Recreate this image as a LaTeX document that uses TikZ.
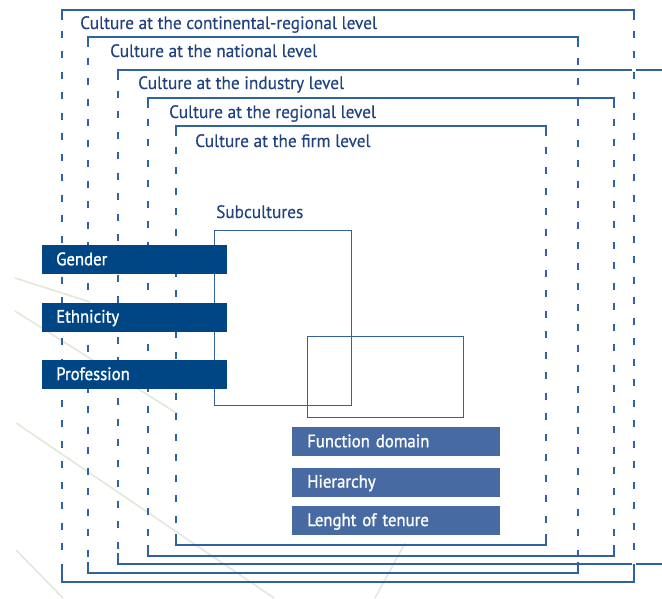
\documentclass[tikz,border=0pt]{standalone}
\usepackage{fontspec}
\setmainfont{PT Sans}[FakeStretch=0.96, FakeBold=0.3]
\newfontfamily\tagfont{PT Sans}[FakeStretch=0.93, FakeBold=1.2]
\usetikzlibrary{positioning}
\definecolor{cuLine}{RGB}{46,98,160}
\definecolor{cuText}{RGB}{32,66,128}
\definecolor{cuDark}{RGB}{0,70,132}
\definecolor{cuMid}{RGB}{71,106,163}
\definecolor{cuFaint}{RGB}{226,232,218}

\begin{document}
\begin{tikzpicture}[
  x=1pt, y=-1pt,
  font=\fontsize{18}{20}\selectfont,
  frame/.style={cuLine, line width=1.3pt},
  side/.style={cuLine, line width=1.3pt, dash pattern=on 7pt off 13.5pt},
  level/.style={anchor=base west, inner sep=0pt, text=cuText},
  tag/.style={anchor=north west, inner xsep=14pt, inner ysep=0pt, minimum height=29pt,
    text height=14pt, text depth=3pt, align=left, text=white,
    font=\fontsize{18}{20}\tagfont},
  sub/.style={draw=cuLine, line width=1.3pt, anchor=north west, inner sep=0pt},
]
\useasboundingbox (0,0) rectangle (662,598);
% faint background strokes
\draw[cuFaint, line width=1.6pt] (15,278) -- (90,302);
\draw[cuFaint, line width=1.6pt] (15,311) -- (178,414);
\draw[cuFaint, line width=1.6pt] (16,423) -- (274,598);
\draw[cuFaint, line width=1.6pt] (16,550) -- (63,598);
\draw[cuFaint, line width=1.6pt] (405,543) -- (375,598);
% nested culture frames
\foreach \l/\r/\t/\b in {62/634/10/582, 88/578/37/573, 148/614/98/556, 176/546/126/545} {
  \draw[side] (\l,\t) -- (\l,\b);
  \draw[side] (\r,\t) -- (\r,\b);
  \draw[frame] (\l,\t+10) -- (\l,\t) -- (\r,\t) -- (\r,\t+10);
  \draw[frame] (\l,\b-11) -- (\l,\b) -- (\r,\b) -- (\r,\b-11);
}
% industry frame runs off the page
\draw[side] (118,70) -- (118,564);
\draw[frame] (118,80) -- (118,70) -- (632,70);
\draw[frame] (636,70) -- (662,70);
\draw[frame] (118,553) -- (118,564) -- (632,564);
\draw[frame] (636,564) -- (662,564);
% frame labels
\node[level] (continental) at (80,29) {Culture at the continental-regional level};
\node[level] (national) at (110,57) {Culture at the national level};
\node[level] (industry) at (138,89) {Culture at the industry level};
\node[level] (regional) at (169,118) {Culture at the regional level};
\node[level] (firm) at (195,147) {Culture at the firm level};
% subcultures
\node[level] (subtitle) at (216,218) {Subcultures};
\node[sub, minimum width=137pt, minimum height=175pt] (subA) at (214,230) {};
\node[sub, minimum width=156pt, minimum height=81pt] (subB) at (307,336) {};
% left tags
\node[tag, fill=cuDark, text width=157pt] (gender) at (42,245) {Gender};
\node[tag, fill=cuDark, text width=157pt, below=28pt of gender.south west, anchor=north west] (ethnicity) {Ethnicity};
\node[tag, fill=cuDark, text width=157pt, below=28pt of ethnicity.south west, anchor=north west] (profession) {Profession};
% lower tags
\node[tag, fill=cuMid, inner xsep=15pt, text width=178pt] (function) at (292,427) {Function domain};
\node[tag, fill=cuMid, inner xsep=15pt, text width=178pt, below=11pt of function.south west, anchor=north west] (hierarchy) {Hierarchy};
\node[tag, fill=cuMid, inner xsep=15pt, text width=178pt, below=9pt of hierarchy.south west, anchor=north west] (tenure) {Lenght of tenure};
\end{tikzpicture}
\end{document}
